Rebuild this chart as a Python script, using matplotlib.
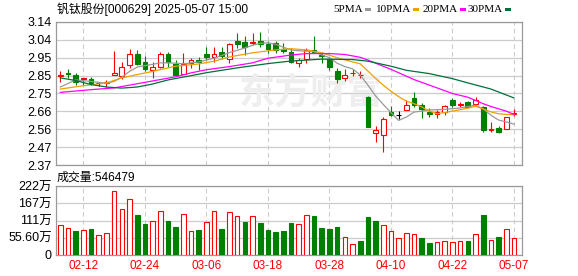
import numpy as np
import pandas as pd
import matplotlib
matplotlib.use('Agg')
import matplotlib.pyplot as plt
from matplotlib.patches import Rectangle

plt.rcParams['font.family'] = ['Liberation Sans', 'Noto Sans CJK SC']

W, H = 578, 276

title = '钒钛股份[000629] 2025-05-07 15:00'
last_volume = 546479

# trading days (holidays removed)
days = pd.bdate_range('2025-02-07', '2025-05-07')
days = days.drop(pd.to_datetime(['2025-04-04', '2025-05-01', '2025-05-02', '2025-05-05']))
day_labels = days.strftime('%m-%d').tolist()

opens = [2.847, 2.868, 2.856, 2.832, 2.832, 2.810, 2.810, 2.856, 2.850, 2.908,
         2.969, 2.926, 2.879, 2.900, 2.969, 2.915, 2.862, 2.918, 2.936, 2.967,
         2.951, 2.981, 2.940, 3.035, 3.030, 3.028, 3.038, 3.020, 3.026, 2.996,
         2.978, 2.918, 2.940, 2.990, 2.963, 2.940, 2.877, 2.838, 2.865, 2.853,
         2.736, 2.542, 2.530, 2.653, 2.641, 2.664, 2.733, 2.694, 2.655, 2.646,
         2.653, 2.721, 2.692, 2.707, 2.700, 2.685, 2.559, 2.568, 2.563, 2.644]
highs = [2.875, 2.886, 2.868, 2.840, 2.843, 2.815, 2.826, 2.982, 2.925, 2.996,
         2.987, 2.958, 2.924, 2.979, 2.979, 2.936, 2.973, 2.945, 2.951, 3.004,
         3.008, 3.008, 3.026, 3.080, 3.065, 3.082, 3.084, 3.038, 3.036, 3.028,
         2.999, 2.945, 2.999, 3.062, 2.981, 2.950, 2.892, 2.886, 2.886, 2.874,
         2.740, 2.578, 2.628, 2.686, 2.659, 2.720, 2.763, 2.704, 2.676, 2.664,
         2.694, 2.730, 2.707, 2.712, 2.736, 2.689, 2.599, 2.581, 2.628, 2.671]
lows = [2.817, 2.838, 2.802, 2.800, 2.802, 2.797, 2.790, 2.855, 2.832, 2.890,
        2.906, 2.874, 2.841, 2.892, 2.900, 2.856, 2.862, 2.892, 2.883, 2.933,
        2.927, 2.940, 2.918, 2.999, 2.963, 3.018, 3.008, 2.975, 2.974, 2.974,
        2.918, 2.900, 2.918, 2.972, 2.918, 2.879, 2.811, 2.820, 2.850, 2.838,
        2.572, 2.494, 2.438, 2.635, 2.618, 2.664, 2.680, 2.622, 2.631, 2.622,
        2.640, 2.682, 2.682, 2.682, 2.694, 2.550, 2.550, 2.541, 2.563, 2.635]
closes = [2.857, 2.859, 2.816, 2.836, 2.810, 2.810, 2.816, 2.868, 2.898, 2.968,
          2.915, 2.886, 2.899, 2.969, 2.924, 2.856, 2.912, 2.936, 2.927, 2.951,
          2.969, 2.958, 3.020, 3.020, 3.008, 3.032, 3.022, 2.996, 2.990, 2.983,
          2.922, 2.936, 2.990, 2.981, 2.958, 2.900, 2.832, 2.856, 2.868, 2.856,
          2.575, 2.560, 2.619, 2.641, 2.641, 2.694, 2.694, 2.670, 2.644, 2.654,
          2.685, 2.694, 2.699, 2.685, 2.718, 2.559, 2.565, 2.550, 2.628, 2.650]
# 万手
volumes = [96, 86, 77, 80, 83, 63, 69, 206, 147, 180,
           129, 100, 108, 141, 109, 90, 132, 76, 80, 105,
           141, 83, 138, 125, 106, 125, 103, 80, 74, 77,
           103, 100, 129, 126, 87, 83, 90, 56, 34, 44,
           122, 109, 95, 76, 53, 69, 66, 54, 38, 40,
           43, 40, 43, 44, 66, 129, 47, 57, 82, 54.65]

# moving averages (bar index, value)
ma5_at = [0, 2, 4, 6, 7, 8, 9, 10, 11, 12, 13, 14, 15, 16, 18, 19, 20, 22, 24, 25, 26, 27, 28, 29,
          30, 31, 33, 34, 35, 36, 37, 38, 39, 40, 41, 42, 43, 44, 45, 46, 48, 50, 52, 54, 55, 56, 57, 58, 59]
ma5_val = [2.79, 2.828, 2.82, 2.81, 2.82, 2.843, 2.874, 2.897, 2.905, 2.912, 2.92, 2.92, 2.918, 2.915,
           2.925, 2.935, 2.945, 2.975, 3.0, 3.015, 3.025, 3.028, 3.02, 3.004, 2.99, 2.985, 2.981, 2.963,
           2.948, 2.918, 2.9, 2.888, 2.855, 2.8, 2.742, 2.696, 2.652, 2.61, 2.628, 2.655, 2.666, 2.67,
           2.677, 2.692, 2.672, 2.638, 2.612, 2.602, 2.59]
ma10_at = [0, 3, 6, 8, 10, 12, 15, 18, 20, 22, 25, 28, 30, 32, 34, 36, 38, 39, 40, 41, 42, 43, 44,
           45, 46, 47, 48, 49, 51, 53, 54, 55, 56, 57, 58, 59]
ma10_val = [2.779, 2.797, 2.812, 2.839, 2.857, 2.874, 2.902, 2.914, 2.929, 2.952, 2.974, 2.99, 2.996,
            2.99, 2.974, 2.948, 2.925, 2.915, 2.876, 2.836, 2.80, 2.767, 2.738, 2.714, 2.70, 2.683,
            2.66, 2.646, 2.66, 2.676, 2.686, 2.672, 2.656, 2.646, 2.642, 2.641]
ma20_at = [0, 3, 5, 7, 9, 11, 13, 15, 17, 19, 22, 25, 27, 30, 32, 35, 37, 39, 40, 43, 46, 48, 51,
           53, 55, 56, 58, 59]
ma20_val = [2.761, 2.772, 2.779, 2.785, 2.80, 2.815, 2.83, 2.845, 2.866, 2.883, 2.90, 2.92, 2.945,
            2.962, 2.97, 2.97, 2.965, 2.95, 2.935, 2.885, 2.83, 2.80, 2.755, 2.735, 2.70, 2.685,
            2.66, 2.642]
ma30_at = [0, 2, 4, 6, 8, 10, 12, 14, 17, 19, 23, 27, 30, 34, 38, 40, 43, 45, 48, 51, 53, 56, 59]
ma30_val = [2.839, 2.825, 2.803, 2.79, 2.784, 2.79, 2.806, 2.828, 2.851, 2.867, 2.893, 2.916, 2.93,
            2.94, 2.938, 2.929, 2.902, 2.88, 2.862, 2.835, 2.812, 2.779, 2.731]

ma_names = ['5PMA', '10PMA', '20PMA', '30PMA']
ma_colors = ['#999999', '#f0a000', '#ff00ff', '#00703a']

tick_days = ['02-12', '02-24', '03-06', '03-18', '03-28', '04-10', '04-22', '05-07']
price_ticks = [2.37, 2.46625, 2.5625, 2.65875, 2.755, 2.85125, 2.9475, 3.04375, 3.14]
price_labels = ['2.37', '2.47', '2.56', '2.66', '2.75', '2.85', '2.95', '3.04', '3.14']
vol_ticks = [0, 55.6, 111.2, 166.8, 222.4]
vol_labels = ['0', '55.60万', '111万', '167万', '222万']

RED = '#ff0000'
GREEN = '#008000'


def fx(px):
    return px / W


def fy(py):
    return 1 - py / H


fig = plt.figure(figsize=(W / 100, H / 100), dpi=100)
ax = fig.add_axes([fx(56), fy(165), fx(466), 143 / H])
axv = fig.add_axes([fx(56), fy(254.7), fx(466), 68.4 / H])

x = np.arange(len(closes))
o = np.array(opens)
c = np.array(closes)
h = np.array(highs)
l = np.array(lows)
v = np.array(volumes)

cand_col = np.where(c > o, RED, np.where(c < o, GREEN, '#000000'))
face_col = np.where(c > o, 'white', np.where(c < o, GREEN, '#000000'))
prev = np.concatenate([[c[0]], c[:-1]])
vol_up = c >= prev

# candles
ax.vlines(x, l, h, colors=cand_col, linewidth=0.8, zorder=2)
ax.bar(x, np.abs(c - o), bottom=np.minimum(o, c), width=0.62, color=face_col,
       edgecolor=cand_col, linewidth=0.8, zorder=3)

# moving averages
for at, val, col in zip([ma5_at, ma10_at, ma20_at, ma30_at],
                        [ma5_val, ma10_val, ma20_val, ma30_val], ma_colors):
    ax.plot(at, val, color=col, linewidth=0.9, zorder=4)

# volume
axv.bar(x, v, width=0.6, color=np.where(vol_up, 'white', GREEN),
        edgecolor=np.where(vol_up, RED, GREEN), linewidth=0.8, zorder=3)

tick_pos = [day_labels.index(d) for d in tick_days]

for a in (ax, axv):
    a.set_xlim(-0.56, 60.04)
    a.set_xticks(tick_pos)
    a.grid(axis='x', color='#cccccc', linestyle=(0, (4, 3)), linewidth=0.8)
    a.grid(axis='y', color='#cccccc', linestyle='-', linewidth=0.9)
    a.set_axisbelow(True)
    a.tick_params(length=0, labelsize=9, pad=3)
    for s in a.spines.values():
        s.set_color('#999999')
        s.set_linewidth(0.9)

ax.set_ylim(2.37, 3.14)
ax.set_yticks(price_ticks)
ax.set_yticklabels(price_labels)
ax.set_xticklabels([])

axv.set_ylim(0, 222.4)
axv.set_yticks(vol_ticks)
axv.set_yticklabels(vol_labels)
axv.set_xticklabels(tick_days, color=RED, fontsize=8.5)
axv.tick_params(axis='x', pad=4)

# watermark
ax.text((311 - 56) / 466, (165 - 93) / 143, '东方财富', transform=ax.transAxes,
        fontsize=26, fontweight='bold', color='#eeeeee', ha='center', va='center',
        family='Noto Sans CJK SC', zorder=1)

fig.text(fx(57), fy(9), title, fontsize=8.6, va='center', ha='left')
fig.text(fx(57), fy(177.5), '成交量:' + str(last_volume), fontsize=8.6, va='center', ha='left')

# legend
mark_x = [365, 413, 460, 505]
for name, col, mx in zip(ma_names, ma_colors, mark_x):
    fig.text(fx(mx - 2), fy(9.5), name, fontsize=8.0, va='center', ha='right',
             family='Liberation Serif')
    fig.add_artist(Rectangle((fx(mx), fy(11)), fx(6), 3 / H, transform=fig.transFigure,
                             facecolor=col, edgecolor='none'))

fig.savefig('out.png', dpi=100)
